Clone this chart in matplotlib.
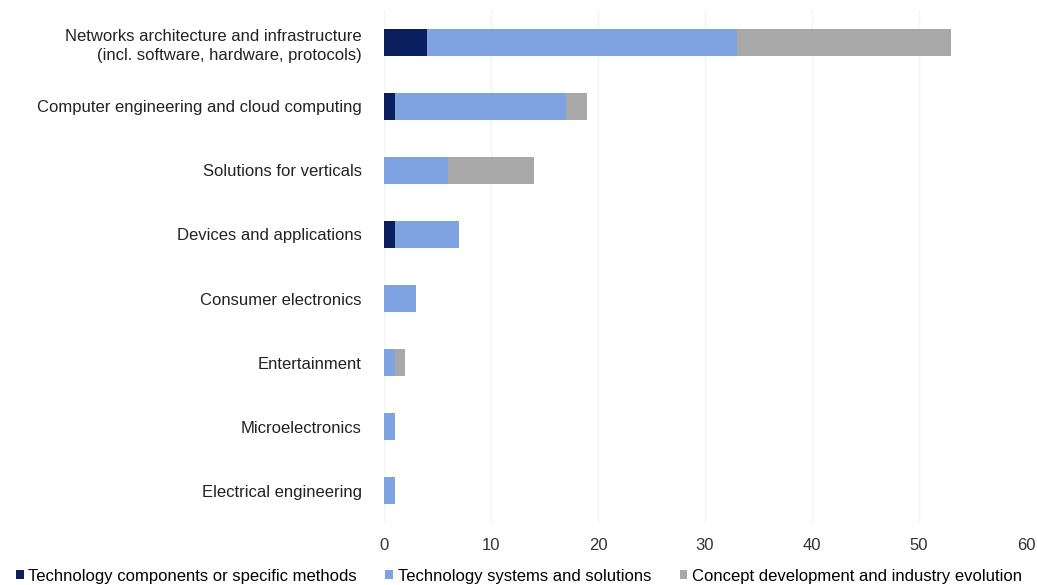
import matplotlib
matplotlib.use("Agg")
import matplotlib.pyplot as plt
import numpy as np

plt.rcParams['font.family'] = ['Liberation Sans', 'DejaVu Sans']

categories = [
    "Networks architecture and infrastructure\n(incl. software, hardware, protocols)",
    "Computer engineering and cloud computing",
    "Solutions for verticals",
    "Devices and applications",
    "Consumer electronics",
    "Entertainment",
    "Microelectronics",
    "Electrical engineering",
]
components = [4, 1, 0, 1, 0, 0, 0, 0]
systems = [29, 16, 6, 6, 3, 1, 1, 1]
concept = [20, 2, 8, 0, 0, 1, 0, 0]
series_names = [
    "Technology components or specific methods",
    "Technology systems and solutions",
    "Concept development and industry evolution",
]
xticks = [0, 10, 20, 30, 40, 50, 60]

colors = ["#0b1f5e", "#7fa3e1", "#a8a8a8"]

fig = plt.figure(figsize=(10.37, 5.85), dpi=100)
ax = fig.add_axes([384/1037, 1 - 523/585, (1026-384)/1037, (523-10)/585])

y = np.arange(len(categories))
comp = np.array(components, float)
sysv = np.array(systems, float)
conc = np.array(concept, float)
h = 0.42
ax.barh(y, comp, height=h, color=colors[0], label=series_names[0], zorder=3)
ax.barh(y, sysv, left=comp, height=h, color=colors[1], label=series_names[1], zorder=3)
ax.barh(y, conc, left=comp + sysv, height=h, color=colors[2], label=series_names[2], zorder=3)

ax.set_yticks(y)
ax.set_yticklabels(categories, fontsize=12, color="#222222", linespacing=1.35)
ax.set_ylim(len(categories) - 0.5, -0.5)
ax.set_xlim(0, 60)
ax.set_xticks(xticks)
ax.set_xticklabels([str(t) for t in xticks], fontsize=12, color="#333333")
ax.tick_params(axis='both', length=0)
ax.tick_params(axis='x', pad=11)
ax.tick_params(axis='y', pad=16)
for s in ax.spines.values():
    s.set_visible(False)
ax.grid(axis='x', color="#f4f4f4", linewidth=1, zorder=0)

handles, labels = ax.get_legend_handles_labels()
leg = fig.legend(handles, labels, loc='lower left', bbox_to_anchor=(6/1037, -0.015),
                 ncol=3, frameon=False, fontsize=12, handlelength=0.45, handleheight=0.45,
                 handletextpad=0.3, columnspacing=1.7, borderaxespad=0.2)

fig.savefig("out.png", dpi=100)
